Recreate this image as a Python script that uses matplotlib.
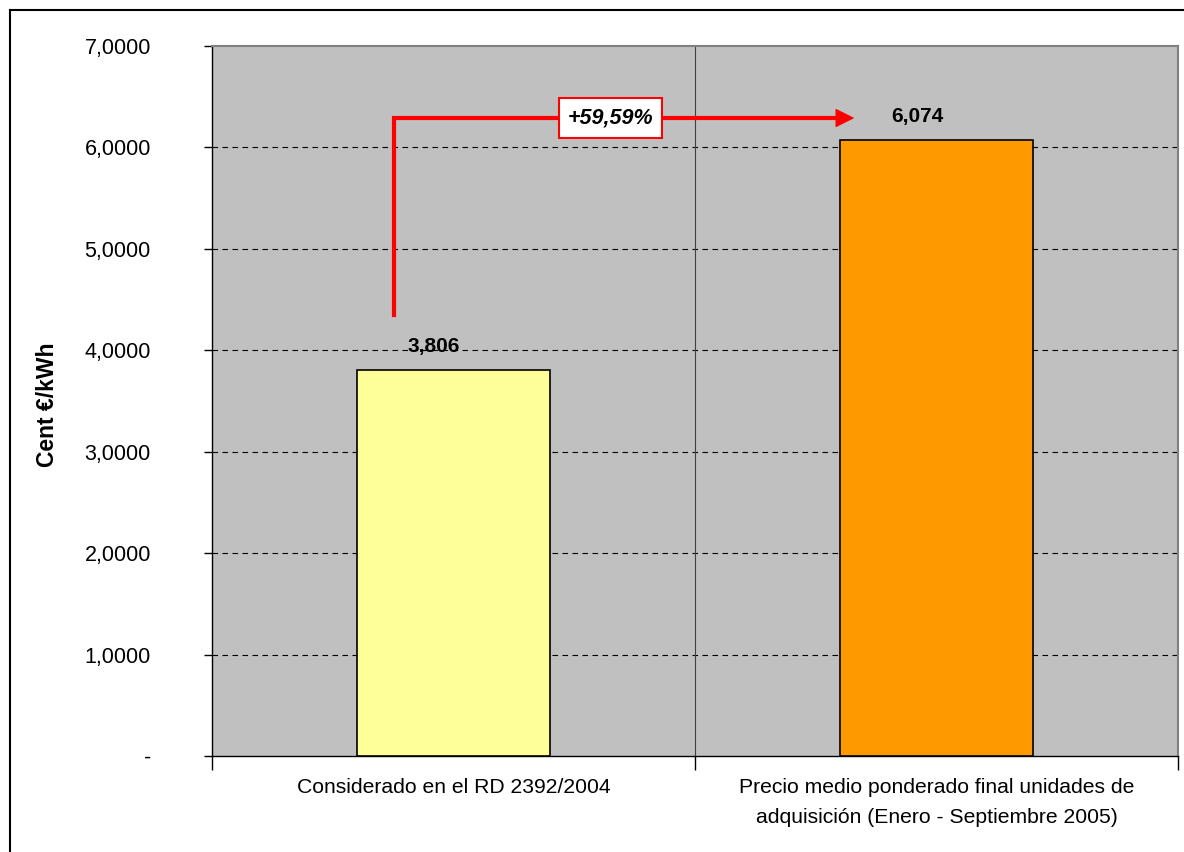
import matplotlib.pyplot as plt
from matplotlib.ticker import FixedLocator

plt.rcParams['font.family'] = ['Liberation Sans', 'DejaVu Sans']

# data
categories = ['Considerado en el RD 2392/2004',
              'Precio medio ponderado final unidades de\nadquisición (Enero - Septiembre 2005)']
values = [3.806, 6.074]
bar_colors = ['#FFFF99', '#FF9900']
y_ticks = [0, 1, 2, 3, 4, 5, 6, 7]

fig = plt.figure(figsize=(11.84, 8.52), dpi=100)
ax = fig.add_axes([212 / 1184, 96 / 852, 966 / 1184, 710 / 852])
ax.set_facecolor('#C0C0C0')

x = list(range(len(categories)))
ax.bar(x, values, width=0.4, color=bar_colors, edgecolor='black', linewidth=1.2, zorder=3)

ax.set_xlim(-0.5, 1.5)
ax.set_ylim(0, 7)

# y axis
ax.set_yticks(y_ticks)
ax.set_yticklabels(['-' if v == 0 else f'{v:.4f}'.replace('.', ',') for v in y_ticks], fontsize=15.5)
ax.tick_params(axis='y', direction='out', length=6, width=1, pad=38)
for lbl in ax.get_yticklabels():
    lbl.set_horizontalalignment('right')
for v in y_ticks[1:-1]:
    ax.axhline(v, color='black', linestyle=(0, (5, 4)), linewidth=0.8, zorder=1)

# x axis
ax.set_xticks(x)
ax.set_xticklabels(categories, fontsize=15.2, linespacing=1.72)
ax.tick_params(axis='x', length=0, pad=16)
ax.xaxis.set_minor_locator(FixedLocator([-0.5, 0.5, 1.5]))
ax.tick_params(axis='x', which='minor', direction='out', length=10, width=1)
ax.axvline(0.5, color='#404040', linewidth=0.8, zorder=1)

for s in ['top', 'right']:
    ax.spines[s].set_color('#808080')
    ax.spines[s].set_linewidth(1.5)
for s in ['left', 'bottom']:
    ax.spines[s].set_color('black')
    ax.spines[s].set_linewidth(1)

ax.set_ylabel('Cent €/kWh', fontsize=16.5, fontweight='bold')
ax.yaxis.set_label_coords(-0.158, 0.495)

# value labels
for xi, v in zip(x, values):
    ax.text(xi - 0.04, v + 0.14, f'{v:.3f}'.replace('.', ','), ha='center', va='bottom',
            fontsize=15, fontweight='bold', zorder=5)

# growth arrow
pct = (values[1] / values[0] - 1) * 100
arrow_y = 6.29
x_start = x[0] - 0.124
x_end = x[1] - 0.17
ax.plot([x_start, x_start, x_end - 0.02], [4.35, arrow_y, arrow_y], color='#FF0000',
        linewidth=3, solid_joinstyle='miter', zorder=4)
ax.annotate('', xy=(x_end, arrow_y), xytext=(x_end - 0.04, arrow_y),
            arrowprops=dict(arrowstyle='-|>,head_length=1.0,head_width=0.5', color='#FF0000',
                            lw=1, mutation_scale=12, shrinkA=0, shrinkB=0), zorder=4)
ax.text(0.325, arrow_y, f'+{pct:.2f}%'.replace('.', ','), ha='center', va='center',
        fontsize=15.5, fontweight='bold', fontstyle='italic', zorder=6,
        bbox=dict(boxstyle='square,pad=0.42', facecolor='white', edgecolor='#FF0000', linewidth=1.5))

# outer chart border
fig.add_artist(plt.Line2D([10 / 1184, 10 / 1184], [0, 842 / 852], color='black', linewidth=1.5))
fig.add_artist(plt.Line2D([10 / 1184, 1], [842 / 852, 842 / 852], color='black', linewidth=1.5))

fig.savefig('out.png', dpi=100)
